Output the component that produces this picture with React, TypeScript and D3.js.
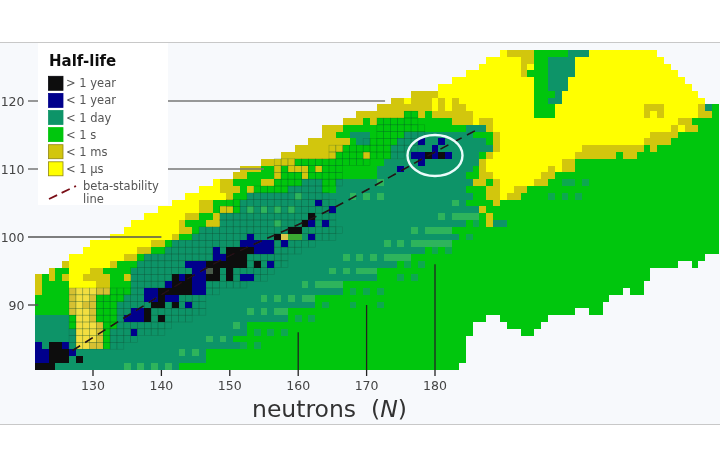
import React from "react";
import * as d3 from "d3";

// Each row: one proton number Z, run-length tokens "<first N><class>", last token without a class ends the row.
const firstZ = 81;
const rows: string[] = [
  "122B 125T 135L 136T 137L 138T 139L 140T 141L 142T 143G 184", // 81
  "122N 124B 127T 128B 129T 147G 222",
  "122N 124B 127N 128T 143L 144T 145L 146T 147G 222",
  "122N 123T 124B 126N 127T 128P 130Q 132G 133T 152D 153G 154D 155G 222",
  "122T 128P 131Q 132G 133T 147L 148T 149L 150T 151G 222", // 85
  "122T 128P 131Q 132G 133T 153G 154D 155G 156D 157G 158D 159G 222",
  "122T 127G 128P 131Q 132G 134T 151L 152T 153G 222",
  "122T 127G 128P 130Q 131G 134T 159G 160D 161G 162D 163G 222",
  "122G 127Q 128P 130Q 131G 134T 153L 154T 155L 156T 157L 159G 222",
  "122G 127Q 128P 129Q 131G 134T 163G 164D 165G 168D 169G 172D 173G 222", // 90
  "122G 127Q 128P 130Q 131G 135T 155L 156T 157L 158T 159L 160T 161L 163G 222",
  "122O 123G 127Q 128P 131Q 133G 136T 167G 168D 169G 170D 171G 172D 173G 222",
  "122O 123G 127Y 131O 133G 136T 161L 162T 163L 167G 222",
  "122O 123G 124O 125G 126O 127Y 129O 133G 135O 136T 172G 175D 176G 177D 178G 222",
  "124O 125G 127Y 130O 132G 136T 165L 166T 167L 168T 169L 172G 222", // 95
  "126O 127Y 133O 134G 137T 175G 176D 177G 178D 179G 222",
  "127Y 135O 137G 138T 167L 168T 169L 170T 171L 172T 173L 177G 222",
  "129Y 137O 139G 141T 179G 180D 181G 182D 183G 222",
  "130Y 139O 141G 142T 173L 174T 175L 176T 177L 183G 222",
  "133Y 142O 143G 145T 184G 185D 186G 222", // 100
  "135Y 143O 145G 146T 177L 178T 179L 183G 222",
  "136Y 143O 144G 147O 149T 157L 158T 185G 186D 187G 188O 189T 191G 222",
  "138Y 144O 146G 148O 149T 181L 182T 183L 187G 188O 189G 222",
  "140Y 146O 148G 149O 151G 152T 153L 154T 155L 156T 157L 158T 159L 160T 187O 188G 222",
  "142Y 146O 148G 152T 183L 184T 185G 189O 190G 222", // 105
  "144Y 150O 151G 153T 160L 161T 168L 169T 170L 171T 172L 173T 186G 188O 190Y 191O 193G 197D 198G 199D 200G 201D 202G 222",
  "146Y 149O 152G 153O 154G 159T 164G 166T 185G 188O 190Y 192O 194G 222",
  "148Y 149O 151G 155O 157G 161T 164G 166T 172L 173T 186O 188G 189O 190Y 195O 197G 199D 201G 202D 203G 222",
  "151O 153G 157O 158G 161O 162G 172T 185G 187O 189Y 196O 198G 222",
  "152O 155G 157O 158G 159O 162G 163O 164G 172T 186G 187O 188Y 197O 198Y 199O 201G 222", // 110
  "155O 160G 173T 187O 188Y 199O 201G 222",
  "158O 166G 170O 171G 174T 187G 188O 189Y 201O 207G 208O 210G 222",
  "160O 167G 174T 189O 190Y 202O 211G 212O 213G 222",
  "162O 168G 169T 171G 175T 188G 189O 190Y 211O 215G 222",
  "164O 166G 168T 171G 176T 186G 189O 190Y 212O 216G 222", // 115
  "164O 167G 185T 188O 189Y 215O 216Y 217O 219G 222",
  "167O 170G 171O 172G 183O 186Y 187O 189Y 216O 218G 222",
  "169O 176G 178O 179G 180O 186Y 195G 198Y 211O 212Y 213O 214Y 219O 221G 222",
  "172O 180Y 181O 182Y 183O 185Y 195G 198Y 211O 214Y 219O 220T 221G 222",
  "174O 176Y 177O 180Y 181O 182Y 183O 184Y 195G 197T 199Y 220", // 120
  "177O 181Y 195G 198T 199Y 219",
  "181Y 195G 197T 200Y 218",
  "183Y 195G 197T 200Y 217",
  "185Y 193O 194G 197T 201Y 216",
  "187Y 193O 194Y 195G 197T 201Y 215", // 125
  "188Y 193O 195G 197T 201Y 214",
  "190Y 191O 195G 200T 203Y 213",
];

// lowest filled Z of the right-hand columns, N = 184, 185, ...
const edgeFirstN = 184;
const edgeLowestZ = [82, 86, 88, 88, 89, 89, 88, 87, 87, 86, 86, 87, 88, 89, 89, 89, 89, 90, 90, 89, 89, 91, 92, 92, 93, 92, 92, 94, 96, 96, 96, 96, 97, 97, 96, 97, 98, 98, 99];

const blackCells: [number, number][] = [
  [147, 96], [148, 96], [149, 96], [150, 96], [151, 96], [152, 96], [154, 96],
  [148, 95], [147, 94], [148, 94], [150, 94], [142, 94], [144, 94],
  [142, 93], [143, 93], [144, 93], [140, 92], [141, 92], [142, 92], [143, 92], [144, 92],
  [140, 91], [139, 90], [140, 90], [142, 90], [138, 89], [138, 88], [140, 88],
  [150, 98], [151, 98], [152, 98], [153, 98], [150, 97], [151, 97], [152, 97], [147, 95], [150, 95],
  [162, 103], [161, 102], [159, 101], [160, 101], [157, 100], [181, 112], [179, 112],
];
const navyCells: [number, number][] = [
  [148, 98], [148, 97], [149, 97], [144, 96], [145, 96], [146, 96], [145, 95], [146, 95], [143, 94], [145, 94], [146, 94],
  [141, 93], [145, 93], [146, 93], [138, 92], [139, 92], [145, 92], [146, 92], [138, 91], [139, 91], [141, 91], [142, 91],
  [144, 90], [136, 89], [137, 89], [135, 88], [136, 88], [137, 88], [136, 86],
  [163, 105], [165, 104], [162, 102], [164, 102], [162, 100], [153, 100], [152, 99], [153, 99], [154, 99], [155, 99], [156, 99], [158, 99],
  [148, 98], [154, 98], [155, 98], [156, 98], [156, 96], [152, 94], [153, 94],
  [175, 110], [178, 114], [181, 114], [180, 113], [177, 112], [178, 112], [180, 112], [182, 112], [178, 111],
];
const grayCells: [number, number][] = [[147, 95]];
const paleCells: [number, number][] = [[158, 100]];
const greenCoreCells: [number, number][] = [[159, 100], [160, 100]];

// runs of cells with a drawn outline: Z, first N, last N
const outlinedRuns: [number, number, number][] = [
  [84, 127, 134], [85, 127, 136], [86, 127, 140], [87, 127, 141], [88, 127, 144], [89, 127, 146], [90, 127, 146], [91, 127, 146], [92, 127, 148],
  [93, 136, 152], [94, 136, 155], [95, 136, 156], [96, 137, 158], [97, 138, 158], [98, 141, 160], [99, 142, 162], [100, 145, 165], [101, 146, 166],
  [102, 149, 165], [103, 149, 165], [104, 149, 165], [105, 150, 165], [106, 153, 164], [107, 154, 164], [108, 157, 166], [109, 157, 166], [110, 157, 166],
  [111, 157, 170], [112, 165, 175], [113, 165, 177], [114, 170, 178], [115, 172, 178], [116, 172, 178], [117, 172, 177], [118, 176, 177],
];

const betaN = [127, 134.4, 147.6, 165, 180, 186];
const betaZ = [83.3, 88, 96, 104.2, 112.5, 115.7];

const xTicks = [130, 140, 150, 160, 170, 180];
const xTickTopZ = [80, 80, 80, 86, 90, 96];
const yTicks = [120, 110, 100, 90];
const yTickEndN = [172.7, 155, 140, 122];
const yTickColor = ["#777", "#777", "#555", "#555"];

const legendLabels = ["> 1 year", "< 1 year", "< 1 day", "< 1 s", "< 1 ms", "< 1 µs"];
const legendCodes = ["B", "N", "T", "G", "O", "Y"];

const colors: Record<string, string> = {
  B: "#0a0a0e", N: "#06068c", T: "#0e9468", G: "#05c60c", O: "#d2c60e", Y: "#ffff00", L: "#2db45c", D: "#0ea850", P: "#f2de40", Q: "#d6c030",
};
const font = "'DejaVu Sans', sans-serif";

const x = d3.scaleLinear().domain([130, 180]).range([93, 435]);
const y = d3.scaleLinear().domain([90, 120]).range([305, 101]);
const cw = x(1) - x(0);
const ch = y(0) - y(1);

function cell(n: number, z: number, color: string, key: string) {
  return <rect key={key} x={x(n - 0.5)} y={y(z + 0.5)} width={cw} height={ch} fill={color} shapeRendering="crispEdges" />;
}

export default function App() {
  const cells: React.ReactNode[] = [];
  rows.forEach((row, i) => {
    const z = firstZ + i;
    const tokens = row.split(" ").map((t) => ({ n: parseInt(t, 10), c: t.replace(/\d+/, "") }));
    tokens.slice(0, -1).forEach((t, j) => {
      for (let n = t.n; n < tokens[j + 1].n; n++) {
        const low = n >= edgeFirstN ? edgeLowestZ[n - edgeFirstN] : 0;
        if (z >= low) cells.push(cell(n, z, colors[t.c], `${z}-${n}`));
      }
    });
  });
  const outlines: React.ReactNode[] = [];
  outlinedRuns.forEach(([z, a, b]) => {
    d3.range(a, b + 1).forEach((n) => {
      outlines.push(
        <rect key={`o${z}-${n}`} x={x(n - 0.5)} y={y(z + 0.5)} width={cw} height={ch} fill="none" stroke="#0a4a30" strokeOpacity={0.3} strokeWidth={0.6} />
      );
    });
  });
  const betaLine = d3.line<number>().x((n) => x(n)).y((_, i) => y(betaZ[i])).curve(d3.curveMonotoneX)(betaN) ?? "";
  const legendY = (i: number) => 83.3 + i * 17.1;

  return (
    <svg width={720} height={451} style={{ position: "absolute", left: 0, top: 0, display: "block", background: "#fff" }}>
      <defs>
        <filter id="soft" x="0" y="0" width="100%" height="100%">
          <feGaussianBlur stdDeviation="0.5" />
        </filter>
      </defs>
      <g filter="url(#soft)">
        <rect x={0} y={42} width={720} height={382} fill="#f7f9fc" />
        <line x1={0} x2={720} y1={42.5} y2={42.5} stroke="#c8c8c8" />
        <line x1={0} x2={720} y1={424.5} y2={424.5} stroke="#c8c8c8" />
        {cells}
        {outlines}
        {blackCells.map(([n, z]) => cell(n, z, colors.B, `b${n}-${z}`))}
        {navyCells.map(([n, z]) => cell(n, z, colors.N, `n${n}-${z}`))}
        {grayCells.map(([n, z]) => cell(n, z, "#4a5a4a", `g${n}-${z}`))}
        {paleCells.map(([n, z]) => cell(n, z, "#dcc84a", `p${n}-${z}`))}
        {greenCoreCells.map(([n, z]) => cell(n, z, "#3aaa30", `c${n}-${z}`))}
        <path d={betaLine} fill="none" stroke="#241214" strokeWidth={1.6} strokeDasharray="9 6" />
        <ellipse cx={435} cy={155.5} rx={27.5} ry={20.5} fill="none" stroke="#eafcfa" strokeWidth={2.4} />

        {xTicks.map((t, i) => (
          <g key={t}>
            <line x1={x(t)} x2={x(t)} y1={xTickTopZ[i] === 80 ? 370 : y(xTickTopZ[i])} y2={376} stroke="#222" strokeWidth={1.3} />
            <text x={x(t)} y={390} textAnchor="middle" fontFamily={font} fontSize={12.5} fill="#444">{t}</text>
          </g>
        ))}
        {yTicks.map((t, i) => (
          <g key={t}>
            <line x1={28} x2={x(yTickEndN[i])} y1={y(t)} y2={y(t)} stroke={yTickColor[i]} strokeWidth={1.5} />
            <text x={24.5} y={y(t) + 5} textAnchor="end" fontFamily={font} fontSize={12.5} fill="#444">{t}</text>
          </g>
        ))}

        <rect x={38} y={43} width={130} height={162} fill="#ffffff" />
        <text x={49} y={66} fontFamily={font} fontSize={15} fontWeight="bold" fill="#111">Half-life</text>
        {legendLabels.map((l, i) => (
          <g key={l}>
            <rect x={48.5} y={legendY(i) - 7} width={14.5} height={14} fill={colors[legendCodes[i]]} stroke={i >= 4 ? "#8f8612" : colors[legendCodes[i]]} strokeWidth={0.8} />
            <text x={66} y={legendY(i) + 4} fontFamily={font} fontSize={11.5} fill="#555">{l}</text>
          </g>
        ))}
        <line x1={49} y1={199} x2={76} y2={186} stroke="#7a1018" strokeWidth={1.8} strokeDasharray="9 5" />
        <text x={83} y={190} fontFamily={font} fontSize={11.5} fill="#555">beta-stability</text>
        <text x={83} y={203} fontFamily={font} fontSize={11.5} fill="#555">line</text>

        <text x={329.5} y={417} textAnchor="middle" fontFamily={font} fontSize={23.5} fill="#333" xmlSpace="preserve">
          neutrons{"  "}(<tspan fontStyle="italic">N</tspan>)
        </text>
      </g>
    </svg>
  );
}
